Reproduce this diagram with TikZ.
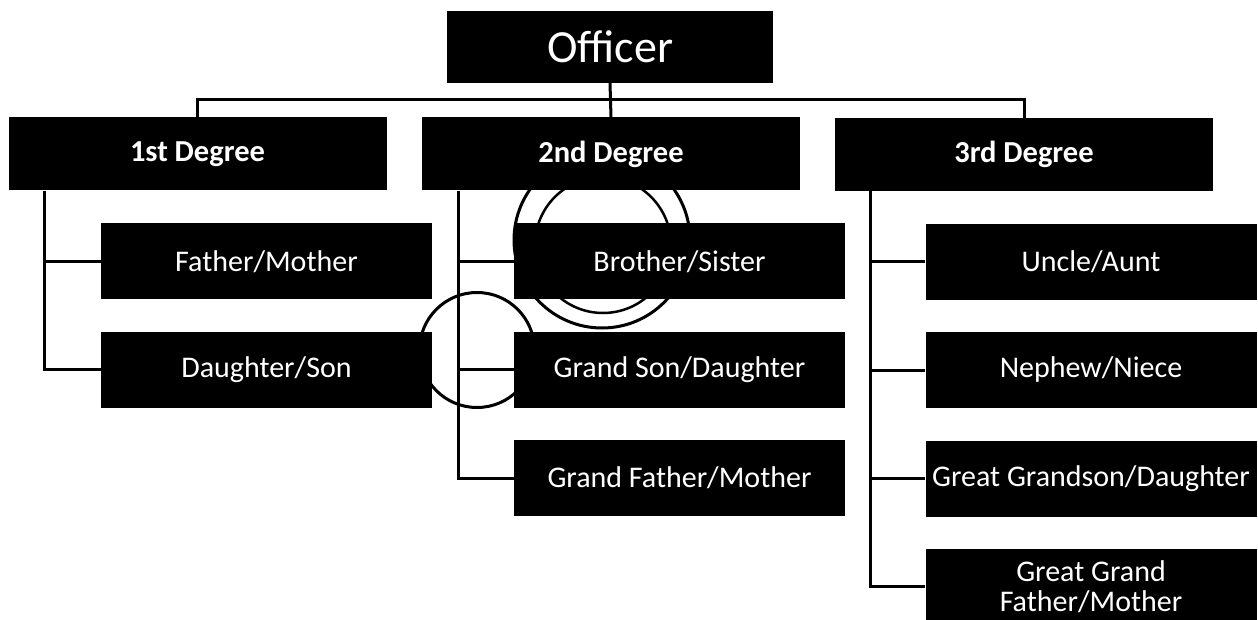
\documentclass[tikz,border=0pt]{standalone}
\usepackage{fontspec}
\setmainfont{Carlito}
\begin{document}
\begin{tikzpicture}[x=1pt,y=-1pt,
  box/.style={fill=black, text=white, inner sep=0pt, minimum width=331pt,
    minimum height=76pt, align=center, font=\fontsize{30}{30}\selectfont},
  degbox/.style={box, minimum width=378pt, minimum height=73pt,
    font=\fontsize{30.5}{32}\selectfont\bfseries},
  topbox/.style={box, minimum width=326pt, minimum height=72pt,
    font=\fontsize{46}{50}\selectfont},
  link/.style={draw=black, line width=3pt},
  ring/.style={draw=black, line width=3pt}]
\useasboundingbox (0,0) rectangle (1258,620);

% hand-drawn rings
\draw[ring] (477,350) circle[radius=57.5];
\draw[ring] (602,240) circle[radius=88];
\draw[ring, line width=2.5pt] (603,245) circle[radius=68];

% top
\node[topbox] (off) at (610,47) {Officer};

% degrees
\node[degbox] (d1) at (197.5,154) {1st Degree};
\node[degbox] (d2) at (611,154) {2nd Degree};
\node[degbox] (d3) at (1024,154.5) {3rd Degree};

% first degree relatives
\node[box] (fm) at (266.5,261.5) {Father/Mother};
\node[box] (ds) at (266.5,369.5) {Daughter/Son};

% second degree relatives
\node[box] (bs) at (679.5,261.5) {Brother/Sister};
\node[box] (gs) at (679.5,369.5) {Grand Son/Daughter};
\node[box] (gf) at (679.5,478) {Grand Father/Mother};

% third degree relatives
\node[box] (ua) at (1091,262) {Uncle/Aunt};
\node[box] (nn) at (1091,370) {Nephew/Niece};
\node[box] (gg) at (1091,478.5) {Great Grandson/Daughter};
\node[box] (ggf) at (1091,586.5) {Great Grand\\Father/Mother};

% connectors from the officer
\coordinate (bar) at (611,100);
\draw[link] (off.south) -- (d2.north);
\draw[link] (d1.north) |- (bar) -| (d3.north);

% connectors to relatives
\coordinate (s1) at ([xshift=36pt]d1.south west);
\coordinate (s2) at ([xshift=37pt]d2.south west);
\coordinate (s3) at ([xshift=36pt]d3.south west);

\draw[link] (s1) |- (ds.west);
\draw[link] (s1 |- fm.west) -- (fm.west);

\draw[link] (s2) |- (gf.west);
\draw[link] (s2 |- bs.west) -- (bs.west);
\draw[link] (s2 |- gs.west) -- (gs.west);

\draw[link] (s3) |- (ggf.west);
\draw[link] (s3 |- ua.west) -- (ua.west);
\draw[link] (s3 |- nn.west) -- (nn.west);
\draw[link] (s3 |- gg.west) -- (gg.west);
\end{tikzpicture}
\end{document}
